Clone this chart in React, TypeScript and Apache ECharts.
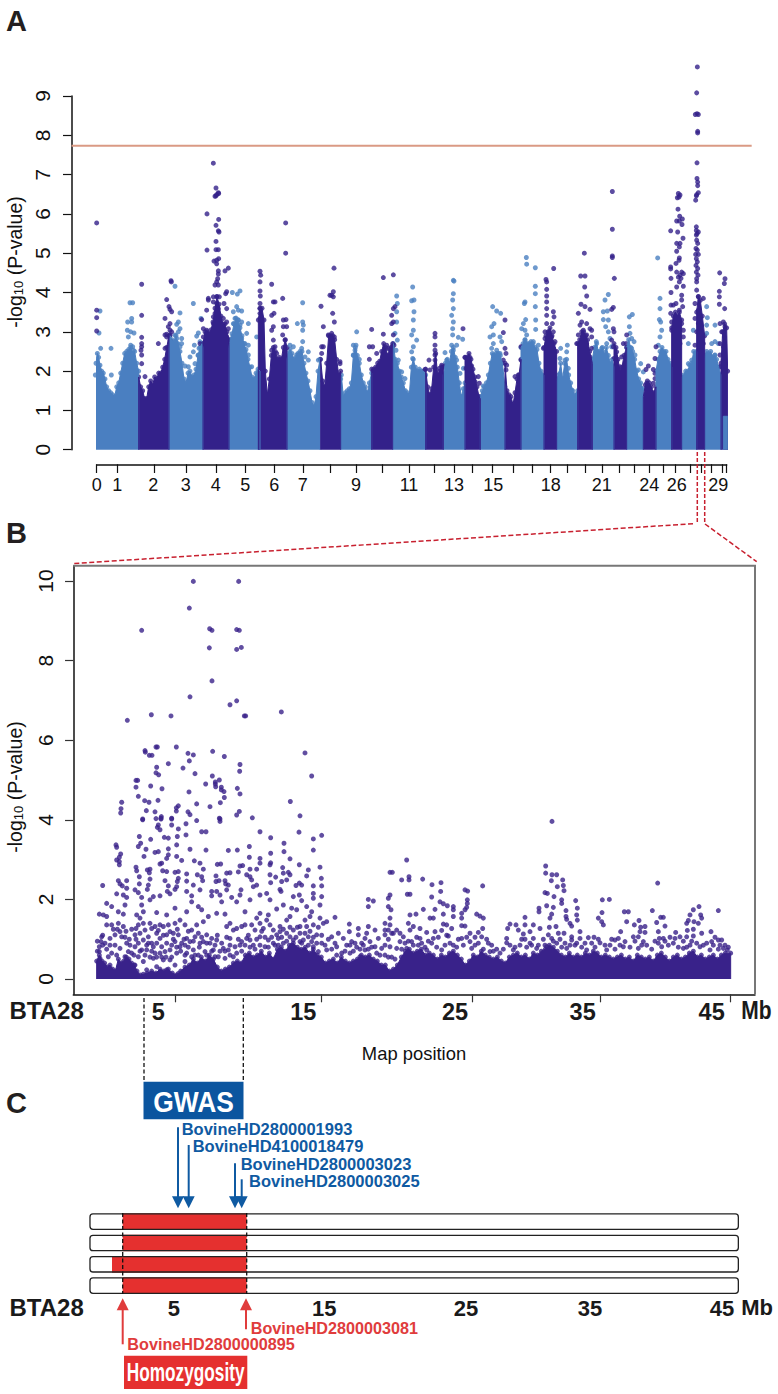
import React, { useEffect, useRef } from "react";
import * as echarts from "echarts";

// ---- Panel A: genome-wide (x = cumulative position units, y = -log10 P)
const chromTicks = [290,352,462,558,648,737,824,909,991,1068,1147,1228,1302,1362,1417,1478,1539,1598,1652,1703,1755,1808,1859,1903,1948,1990,2027,2070,2105,2135,2167,2178];
const chromLabelPos = [290,352,460,557,647,736,823,908,1068,1227,1362,1480,1652,1805,1948,2030,2155];
const chromLabels = ["0","1","2","3","4","5","6","7","9","11","13","15","18","21","24","26","29"];
const threshold = 7.735;
const thresholdSpan = [214.5, 2255];

const lightMass: number[][][] = [
  [[286,1.9],[288,2.2],[292,2.45],[296,2.35],[300,2.15],[305,2.0],[310,1.95],[315,1.8],[320,1.6],[326,1.5],[332,1.45],[338,1.4],[344,1.35],[350,1.6],[356,1.7],[362,1.95],[368,2.2],[374,2.45],[380,2.5],[386,2.55],[392,2.6],[398,2.45],[404,2.5],[410,2.2],[416,2.0]],
  [[507,2.6],[510,2.9],[516,2.8],[522,2.75],[528,2.9],[534,2.7],[540,2.5],[546,2.2],[552,1.8],[558,1.7],[564,1.95],[570,2.0],[576,1.85],[582,1.9],[588,2.05],[594,2.4],[600,2.6],[606,2.7],[609,2.6]],
  [[687,2.6],[690,2.8],[696,2.95],[702,3.2],[708,3.35],[714,3.3],[720,3.1],[726,2.9],[732,2.7],[738,2.55],[744,2.3],[750,2.1],[756,1.85],[762,1.8],[768,1.95],[774,2.05],[780,2.0]],
  [[861,2.3],[864,2.45],[870,2.55],[876,2.45],[882,2.3],[888,2.35],[894,2.45],[900,2.5],[906,2.5],[912,2.2],[918,1.95],[924,1.75],[930,1.5],[936,1.2],[942,1.1],[948,1.35],[954,2.0],[960,2.3]],
  [[1022,1.8],[1024,1.9],[1030,1.35],[1036,1.45],[1042,1.5],[1048,1.55],[1054,1.7],[1060,2.4],[1066,2.6],[1072,2.4],[1078,2.2],[1084,1.9],[1090,1.7],[1096,1.6],[1102,1.45],[1108,1.7],[1115,1.95]],
  [[1178,2.6],[1180,2.7],[1186,2.3],[1192,2.2],[1198,2.0],[1204,1.85],[1210,1.7],[1216,1.5],[1222,1.45],[1228,1.4],[1234,2.1],[1240,2.3],[1246,2.1],[1252,2.0],[1258,2.05],[1264,2.0],[1270,2.0],[1277,1.9]],
  [[1330,1.9],[1336,2.2],[1342,2.3],[1348,2.2],[1354,2.5],[1360,2.6],[1366,2.35],[1372,2.1],[1378,1.7],[1384,1.35],[1390,1.55],[1395,1.7]],
  [[1441,1.35],[1447,1.5],[1453,1.6],[1459,1.7],[1465,1.9],[1471,2.2],[1477,2.45],[1483,2.4],[1489,2.45],[1495,2.45],[1501,2.4],[1507,2.2],[1515,1.6]],
  [[1563,2.6],[1569,2.7],[1575,2.8],[1581,2.7],[1587,2.7],[1593,2.75],[1599,2.7],[1605,2.6],[1611,2.55],[1617,2.2],[1623,2.0],[1632,1.9]],
  [[1670,1.8],[1676,1.9],[1682,2.2],[1688,1.8],[1694,2.2],[1700,2.3],[1706,1.9],[1712,1.7],[1718,1.5],[1724,1.4],[1733,1.5]],
  [[1777,2.3],[1783,2.6],[1789,2.75],[1795,2.5],[1801,2.5],[1807,2.6],[1813,2.4],[1819,2.6],[1825,2.4],[1831,2.2],[1837,2.3],[1842,2.1]],
  [[1880,2.6],[1886,2.8],[1892,2.6],[1898,2.5],[1904,2.3],[1910,2.0],[1916,1.8],[1922,1.7],[1930,1.55]],
  [[1968,2.0],[1974,2.3],[1980,2.5],[1986,2.6],[1992,2.5],[1998,2.5],[2004,2.3],[2010,2.2],[2015,2.1]],
  [[2045,1.85],[2051,1.9],[2057,2.0],[2063,2.0],[2069,2.15],[2075,2.2],[2081,2.5],[2090,2.5]],
  [[2114,2.4],[2120,2.5],[2126,2.45],[2132,2.5],[2138,2.35],[2144,2.4],[2150,2.3],[2156,2.1],[2163,1.9]],
];
const darkMass: number[][][] = [
  [[416,1.85],[422,1.6],[428,1.5],[434,1.3],[440,1.3],[446,1.6],[452,1.75],[458,1.65],[464,1.85],[470,1.8],[476,1.95],[482,1.95],[488,2.1],[494,2.3],[500,2.6],[507,2.9]],
  [[609,2.7],[615,3.0],[621,3.0],[627,2.95],[633,3.05],[639,3.25],[645,3.6],[651,3.9],[657,3.7],[663,3.4],[669,3.2],[675,3.2],[681,3.0],[687,2.8]],
  [[775,3.3],[780,3.6],[786,3.6],[792,3.3],[796,2.0],[802,1.4],[808,1.8],[814,2.4],[820,2.6],[826,2.5],[832,2.3],[838,2.35],[844,2.3],[850,2.6],[856,2.8],[861,2.6]],
  [[962,2.3],[968,1.75],[974,1.6],[980,2.2],[986,2.9],[992,2.9],[998,2.9],[1004,2.8],[1010,2.3],[1016,1.9],[1022,2.0]],
  [[1115,2.05],[1121,2.05],[1127,2.1],[1133,2.2],[1139,2.25],[1145,2.5],[1151,2.7],[1157,2.6],[1163,2.4],[1169,2.55],[1175,2.6],[1178,2.7]],
  [[1277,2.05],[1283,1.6],[1289,1.4],[1295,1.55],[1301,2.1],[1307,2.45],[1313,1.9],[1319,2.0],[1325,2.15],[1330,2.1]],
  [[1395,2.35],[1401,2.35],[1407,2.45],[1413,2.3],[1419,2.05],[1425,1.85],[1431,1.6],[1437,1.35],[1441,1.3]],
  [[1515,2.2],[1521,1.5],[1527,1.4],[1533,1.35],[1539,1.15],[1545,1.45],[1551,1.8],[1557,1.9],[1563,2.3]],
  [[1632,2.6],[1638,2.9],[1644,3.0],[1650,3.1],[1656,2.9],[1662,2.7],[1670,2.5]],
  [[1733,2.7],[1739,2.8],[1745,3.0],[1751,3.0],[1757,2.9],[1763,2.8],[1769,2.5],[1777,2.2]],
  [[1842,2.7],[1848,2.6],[1854,2.3],[1860,2.0],[1866,2.1],[1872,2.4],[1880,2.6]],
  [[1930,1.35],[1936,1.65],[1942,1.75],[1948,1.7],[1954,1.6],[1960,1.45],[1968,1.6]],
  [[2015,3.1],[2020,3.4],[2026,3.5],[2032,3.4],[2038,3.5],[2045,3.3]],
  [[2090,3.5],[2095,3.9],[2101,3.8],[2107,3.4],[2114,2.9]],
  [[2163,2.2],[2168,3.0],[2174,3.2],[2180,3.1],[2183,2.0]],
];
const xChromPatch: number[][] = [[2170,0.85],[2183,0.85]];

const aDarkDots = [
  [290,5.77],[640,7.29],[648,6.66],[656,6.52],[650,6.49],[645,6.45],[655,6.54],[648,6.46],[621,6.0],[656,5.86],[648,5.71],[655,5.57],[657,5.54],[648,5.3],[621,5.08],[648,5.09],[655,5.09],[656,4.86],[650,4.82],[642,4.8],[650,4.73],[685,4.62],[675,4.55],[655,4.55],[655,4.47],[653,4.35],[780,4.54],[782,4.44],[857,5.77],[857,5.0],[1002,4.62],[1150,4.38],[513,4.3],
  [2092,9.74],[2090,9.08],[2091,8.55],[2086,8.53],[2095,8.53],[2093,8.1],[2093,8.06],[2091,7.3],[2091,6.9],[2093,6.81],[2093,6.72],[2095,6.54],[2090,6.49],[2087,6.35],[2089,6.46],
  [2089,5.67],[2089,5.58],[2095,5.54],[2091,5.5],[2089,5.46],[2090,5.33],[2093,5.25],[2088,5.12],[2092,5.08],[2087,4.97],[2095,4.97],[2089,4.86],[2092,4.78],[2088,4.69],[2093,4.61],[2089,4.52],[2094,4.44],[2090,4.35],
  [2035,6.52],[2040,6.48],[2032,6.41],[2037,6.43],[2034,6.12],[2039,5.94],[2047,5.87],[2030,5.82],[2038,5.82],[2046,5.73],[2012,5.57],[2033,5.54],[2049,5.38],[2030,5.25],[2040,5.25],[2038,5.16],[2030,5.05],[2038,4.88],[2037,4.82],[2028,4.74],[2012,4.65],[2012,4.6],[2030,4.52],[2045,4.52],[2040,4.44],[2050,4.48],[2035,4.39],[2043,4.36],[2013,4.36],
  [2159,4.5],[2175,4.35],[1837,6.57],[1837,5.61],[1837,4.93],[1837,4.89],[1843,4.36],[1753,5.0],[1742,4.42],[1755,4.42],[1661,4.61],[1638,4.33],[1180,4.45],
  [290,3.55],[290,3.36],[290,3.02],
  [425,4.21],[425,3.42],[425,2.86],[425,2.7],[425,2.62],[423,2.53],[425,2.41],[425,2.19],[435,1.86],[475,2.7],[500,2.87],[500,3.82],[507,3.64],[510,3.57],[515,3.51],[495,3.34],[510,3.21],[505,3.13],[510,3.04],[500,2.94],[495,2.92],[510,2.92],[515,3.0],[514,4.27],[510,2.79],[512,2.66],[505,2.58],[495,2.58],[512,2.49],[505,2.41],
  [650,4.27],[645,4.19],[655,4.19],[640,3.89],[650,3.89],[658,3.89],[625,3.85],[625,3.81],[640,3.76],[680,4.02],[677,3.97],[620,3.55],[650,3.72],[655,3.59],[672,3.72],[680,3.59],[645,3.47],[655,3.47],[640,3.38],[650,3.34],[660,3.3],[670,3.34],[680,3.25],[605,3.31],[610,3.08],[620,3.04],[640,3.21],[650,3.21],[660,3.13],[670,3.08],[685,3.08],[610,2.87],[620,2.96],[640,3.04],[665,2.92],[680,2.87],[600,2.7],[615,2.75],[630,2.83],
  [780,4.27],[780,4.04],[781,3.91],[780,3.72],[780,3.59],[780,3.47],[780,3.34],[815,4.21],[820,3.76],[825,3.76],[848,3.85],[815,3.42],[822,3.47],[820,3.13],[815,3.04],[850,3.3],[858,3.31],[860,3.13],[850,3.13],[848,2.92],[820,2.79],[825,2.62],[855,2.79],[815,2.53],[830,2.45],[855,2.53],[825,2.28],
  [963,3.65],[1000,4.02],[995,3.93],[990,3.93],[1000,3.89],[998,3.47],[1003,3.25],[970,3.13],[965,2.62],[970,2.62],[965,2.45],[985,2.92],[995,2.96],[1003,2.87],[1020,2.24],[1020,2.19],
  [1115,3.06],[1108,2.62],[1118,2.62],[1150,2.94],[1160,2.66],[1130,2.45],[1108,2.3],[1150,2.41],[1165,2.58],
  [1180,3.59],[1175,3.42],[1185,3.64],[1180,3.25],[1175,3.21],[1180,2.92],[1175,2.62],[1182,2.66],[1178,2.28],
  [1305,2.96],[1305,2.87],[1287,2.28],[1305,2.66],[1305,2.53],[1305,2.41],[1305,2.28],[1275,2.04],[1290,2.03],[1325,2.11],[1335,2.13],[1318,2.07],[1320,1.86],[1389,3.08],
  [1395,2.35],[1410,2.35],[1405,2.24],[1415,2.13],[1398,2.07],[1435,1.86],[1425,1.73],[1438,1.69],
  [1515,3.3],[1510,2.98],[1515,2.58],[1518,2.45],[1510,2.28],[1520,2.15],[1518,2.03],[1545,1.86],[1555,1.9],
  [1640,4.27],[1640,4.08],[1640,3.91],[1640,3.76],[1640,3.59],[1640,3.42],[1660,3.51],[1662,3.38],[1640,3.21],[1657,3.21],[1635,3.0],[1645,3.0],[1660,3.0],[1635,2.83],[1655,2.87],[1650,2.7],[1665,2.75],[1630,2.58],[1660,2.58],[1563,2.62],[1563,2.28],
  [1754,4.14],[1760,3.91],[1743,3.7],[1755,3.64],[1770,3.57],[1735,3.47],[1745,3.25],[1760,3.21],[1740,3.17],[1770,3.08],[1775,3.04],[1750,3.04],[1735,2.92],[1760,2.92],[1775,2.87],[1745,2.7],[1760,2.7],[1730,2.7],[1775,2.58],[1740,2.58],[1750,2.45],[1770,2.36],
  [1840,3.62],[1835,3.57],[1840,3.08],[1842,3.0],[1835,2.79],[1840,2.62],[1850,2.49],[1842,2.32],[1880,2.92],[1870,2.7],[1878,2.7],[1865,2.36],[1880,2.36],[1860,2.11],
  [1945,2.13],[1938,2.04],[1960,2.04],[1965,1.94],[1965,1.81],[1960,1.69],[1940,1.69],[1935,1.35],[1968,2.62],[1965,2.32],
  [2013,4.0],[2013,3.68],[2020,3.68],[2012,3.47],[2015,3.25],[2028,3.72],[2038,4.27],[2050,4.16],[2030,4.14],[2045,3.93],[2045,3.81],[2048,3.64],[2038,3.55],[2030,3.21],[2045,3.21],[2050,3.04],[2015,3.04],[2025,2.92],[2050,2.87],[2040,2.7],
  [2090,4.27],[2090,4.06],[2095,3.89],[2085,3.72],[2095,3.55],[2085,3.34],[2095,3.21],[2090,3.0],[2100,2.87],[2110,3.85],[2110,2.7],[2085,2.66],[2100,2.53],
  [2173,4.23],[2158,4.03],[2158,3.89],[2158,3.7],[2174,3.59],[2170,3.25],[2160,3.21],[2175,3.13],[2165,3.0],[2173,2.87],[2160,2.7],[2170,2.62],[2160,2.41],[2170,2.28],[2160,2.11],
];
const aLightDots = [
  [1579,4.89],[1580,4.72],[1606,4.63],[1360,4.31],[1973,4.88],
  [300,3.53],[297,2.97],[302,2.58],[333,2.58],[334,1.9],[390,3.74],[398,3.74],[395,3.34],[383,3.25],[395,3.25],[382,3.04],[392,3.0],[402,2.97],[385,2.87],[398,2.62],[392,2.66],[388,2.49],[380,2.41],[400,2.53],
  [525,4.16],[540,3.48],[535,3.25],[530,3.19],[540,3.08],[535,3.0],[525,2.92],[530,2.83],[545,2.83],[530,2.7],[545,2.7],[525,2.53],[540,2.62],[530,2.41],[570,2.36],[580,3.72],[583,2.66],[580,2.49],[603,3.34],[595,2.97],[590,2.89],[600,2.75],[597,2.58],[595,2.41],[565,2.11],[555,2.13],[585,2.19],
  [697,4.0],[720,4.04],[712,3.96],[710,3.64],[700,3.51],[715,3.55],[725,3.53],[705,3.34],[715,3.3],[725,3.25],[745,3.21],[700,3.21],[710,3.13],[720,3.17],[740,2.96],[770,2.87],[735,2.7],[745,2.66],[725,2.83],[735,2.49],[745,2.41],[755,2.11],
  [908,3.74],[908,3.25],[892,3.21],[910,3.17],[908,3.04],[908,2.75],[905,2.58],[895,2.41],[925,2.49],[870,2.66],[880,2.62],[890,2.41],[915,2.36],[925,2.28],
  [955,2.28],[1070,3.0],[1060,2.66],[1068,2.66],[1065,2.53],[1060,2.41],[1078,2.3],[1070,2.11],
  [1190,3.91],[1238,4.14],[1242,3.81],[1235,3.79],[1242,3.51],[1240,3.3],[1240,3.04],[1235,2.92],[1250,2.79],[1240,2.62],[1235,2.49],[1238,2.32],[1205,1.98],[1192,3.72],[1190,3.51],[1190,3.25],[1185,2.96],[1192,2.79],[1188,2.53],[1195,2.28],[1215,1.81],
  [1362,4.29],[1360,3.97],[1358,3.81],[1360,3.59],[1355,3.42],[1360,3.25],[1358,3.08],[1358,2.92],[1375,2.86],[1388,2.81],[1355,2.66],[1370,2.66],[1360,2.53],[1335,2.47],[1340,2.28],[1370,2.28],[1390,2.07],[1380,1.94],
  [1478,3.64],[1490,3.53],[1502,3.47],[1482,3.21],[1475,3.13],[1470,2.87],[1480,2.92],[1500,2.87],[1505,2.75],[1480,2.7],[1475,2.58],[1490,2.53],[1500,2.45],[1480,2.41],[1450,1.62],[1465,1.64],
  [1575,3.76],[1573,3.72],[1606,4.16],[1606,3.97],[1606,3.64],[1577,3.31],[1607,3.3],[1570,3.21],[1565,3.08],[1575,3.04],[1607,3.06],[1580,2.92],[1575,2.79],[1600,2.75],[1615,2.66],[1585,2.62],
  [1682,2.58],[1702,2.66],[1700,2.49],[1695,2.28],[1680,1.94],[1705,2.07],[1715,1.52],[1680,2.32],
  [1825,3.95],[1815,3.81],[1810,3.51],[1822,3.53],[1810,3.31],[1825,3.3],[1817,3.13],[1825,3.0],[1830,2.83],[1790,2.7],[1820,2.7],[1805,2.58],[1835,2.62],[1810,2.49],
  [1897,3.44],[1888,3.38],[1888,3.13],[1890,2.96],[1895,2.83],[1902,2.75],[1895,2.58],[1905,2.41],[1922,2.19],[1915,2.03],[1930,1.98],
  [1980,3.85],[1980,3.59],[1978,3.31],[1982,3.25],[1985,3.04],[1980,2.87],[1975,2.66],[1990,2.41],[1980,2.28],
  [2080,3.04],[2065,2.7],[2075,2.28],[2065,2.19],
  [2120,3.64],[2122,3.36],[2120,3.17],[2120,2.96],[2145,3.17],[2145,2.75],[2135,2.7],[2155,2.7],[2130,2.41],[2145,2.41],
];

// ---- Panel B: BTA28 (x = marker position units, y = -log10 P)
const bTicks = [345,784,1237,1621,2011];
const bLabelPos = [295,730,1185,1568,1955];
const bLabels = ["5","15","25","35","45"];
const bYTicks = [0,2,4,6,8,10];
const bMass = [[110,.45],[118,.6],[126,.45],[134,.4],[142,.3],[150,.35],[158,.25],[166,.2],[175,.5],[183,.4],[191,.45],[199,.55],[207,.5],[215,.4],[223,.35],[231,.2],[240,.1],[250,.12],[262,.15],[275,.2],[288,.15],[300,.25],[312,.2],[325,.25],[337,.15],[350,.1],[362,.2],[375,.3],[388,.35],[400,.5],[412,.4],[424,.55],[436,.45],[448,.6],[460,.5],[472,.3],[484,.2],[496,.25],[508,.3],[520,.4],[532,.45],[544,.4],[556,.6],[568,.65],[580,.55],[592,.6],[604,.7],[616,.55],[628,.65],[640,.5],[652,.75],[664,.8],[676,.7],[688,.85],[700,.9],[712,.8],[724,.75],[736,.8],[748,.65],[760,.75],[772,.6],[784,.55],[796,.4],[808,.45],[820,.5],[832,.4],[844,.55],[856,.45],[868,.4],[880,.45],[892,.5],[904,.6],[916,.55],[928,.6],[940,.5],[952,.45],[964,.35],[976,.35],[988,.2],[1000,.25],[1012,.35],[1024,.55],[1036,.7],[1048,.75],[1060,.65],[1072,.7],[1084,.75],[1096,.6],[1108,.65],[1120,.6],[1132,.5],[1144,.6],[1156,.55],[1168,.65],[1180,.7],[1192,.6],[1204,.5],[1216,.35],[1228,.45],[1240,.6],[1252,.55],[1264,.7],[1276,.6],[1288,.55],[1300,.5],[1312,.55],[1324,.45],[1336,.4],[1348,.55],[1360,.6],[1372,.65],[1384,.55],[1396,.6],[1408,.5],[1420,.65],[1432,.6],[1444,.7],[1456,.75],[1468,.85],[1480,.8],[1492,.7],[1504,.6],[1516,.55],[1528,.65],[1540,.55],[1552,.6],[1564,.55],[1576,.65],[1588,.6],[1600,.7],[1612,.65],[1624,.55],[1636,.6],[1648,.55],[1660,.5],[1672,.55],[1684,.6],[1696,.5],[1708,.55],[1720,.45],[1732,.6],[1744,.55],[1756,.5],[1768,.55],[1780,.45],[1792,.6],[1804,.65],[1816,.55],[1828,.45],[1840,.55],[1852,.6],[1864,.5],[1876,.55],[1888,.65],[1900,.7],[1912,.55],[1924,.6],[1936,.5],[1948,.55],[1960,.6],[1972,.5],[1984,.6],[1996,.65],[2012,.65]];
const bTopDots = [
  [400,9.99],[536,9.99],[388,9.32],[245,8.76],[449,8.8],[456,8.76],[530,8.78],[538,8.76],[448,8.32],[530,8.28],[544,8.33],[456,7.49],[390,7.09],[510,6.89],[530,6.99],[274,6.64],[333,6.61],[202,6.5],[553,6.61],[557,6.61],[664,6.71],
  [288,5.83],[292,5.83],[349,5.83],[255,5.74],[256,5.7],[268,5.62],[276,5.62],[384,5.67],[400,5.63],[458,5.72],[493,5.59],[735,5.68],[388,5.48],[325,5.41],[290,5.32],[369,5.3],[540,5.39],[539,5.22],[288,5.18],[296,5.13],[405,5.16],[457,5.1],[755,5.1],[228,4.99],[233,4.99],[478,5.0],[466,4.95],[466,4.9],[437,4.9],[467,4.83],[272,4.85],[228,4.82],[484,4.82],[306,4.78],[532,4.79],[484,4.75],[492,4.71],[387,4.7],[540,4.65],[235,4.59],[493,4.56],[294,4.49],[254,4.48],[267,4.44],[185,4.44],[481,4.43],[691,4.46],[410,4.4],[355,4.35],[349,4.3],[450,4.33],[183,4.28],[349,4.22],[259,4.23],[285,4.2],[384,4.2],[390,4.13],[182,4.17],[538,4.21],[530,4.12],[720,4.1],[304,4.08],[248,4.02],[288,4.03],[303,4.04],[335,4.04],[478,4.04],[577,4.05],[410,3.98],
];
const bMidDots = [
  [303,4.02],[248,4.0],[335,4.02],[480,4.02],[480,3.96],
  [295,3.87],[335,3.87],[378,3.9],[292,3.81],[300,3.75],[355,3.77],[425,3.7],[438,3.7],[600,3.7],[717,3.69],[785,3.61],[238,3.58],[272,3.51],[313,3.56],[325,3.54],[352,3.58],[378,3.62],[632,3.55],[760,3.52],[672,3.41],[168,3.37],[170,3.31],[242,3.41],[235,3.33],[350,3.37],[568,3.33],[258,3.26],[325,3.27],[390,3.26],[438,3.24],[505,3.23],[532,3.24],[672,3.2],[760,3.24],[182,3.14],[178,3.06],[285,3.18],[295,3.2],[252,3.08],[325,3.12],[320,3.03],[350,3.08],[632,3.16],[568,3.06],[600,3.03],[690,3.02],[170,2.99],[178,2.95],[178,2.87],[305,2.91],[300,2.89],[365,2.98],[403,2.97],[420,2.91],[472,2.88],[482,2.89],[540,2.84],[548,2.85],[632,2.92],[600,2.91],[718,2.87],[780,2.81],[228,2.81],[230,2.72],[262,2.74],[270,2.76],[268,2.67],[308,2.72],[320,2.7],[355,2.7],[345,2.68],[430,2.76],[570,2.76],[590,2.76],[668,2.8],[630,2.87],[745,2.74],[670,2.66],[685,2.68],[690,2.62],[380,2.64],[412,2.62],[425,2.57],[468,2.59],[500,2.66],[510,2.67],[535,2.69],[560,2.62],[570,2.57],[630,2.62],[647,2.56],[740,2.59],[784,2.53],[238,2.57],[270,2.51],[175,2.47],[200,2.47],[315,2.47],[355,2.53],[352,2.45],[380,2.46],[428,2.47],[468,2.45],[477,2.47],[495,2.47],[575,2.49],[632,2.42],[665,2.45],[680,2.49],[997,2.68],[990,2.68],[718,2.41],[725,2.36],[708,2.35],[128,2.35],[180,2.39],[187,2.34],[200,2.28],[238,2.39],[265,2.36],[325,2.34],[350,2.32],[400,2.36],[497,2.39],[505,2.36],[580,2.32],[590,2.36],[660,2.25],[760,2.34],[785,2.34],[225,2.24],[235,2.17],[262,2.25],[322,2.2],[345,2.25],[380,2.2],[420,2.24],[455,2.2],[470,2.2],[500,2.24],[543,2.24],[600,2.11],[620,2.15],[663,2.2],
  [170,2.14],[190,2.11],[200,2.05],[245,2.05],[280,2.07],[300,2.09],[330,2.14],[395,2.09],[455,2.09],[480,2.11],[515,2.05],[540,2.11],[718,2.11],[760,2.15],[785,2.07],[990,2.11],[985,2.03],[925,2.0],[940,1.96],[140,1.9],[155,1.82],[195,1.86],[245,1.86],[270,1.99],[395,1.94],[415,1.82],[485,1.94],[530,1.94],[570,1.99],[630,1.99],[670,1.86],[700,2.07],[725,1.97],[760,2.03],[780,1.86],[925,1.82],[985,1.82],[993,1.74],
  [118,1.63],[130,1.61],[140,1.57],[155,1.36],[140,1.36],[175,1.69],[190,1.63],[230,1.61],[250,1.69],[290,1.67],[320,1.61],[345,1.78],[380,1.69],[425,1.74],[470,1.65],[495,1.63],[555,1.69],[600,1.65],[625,1.61],[650,1.76],[695,1.78],[710,1.74],[740,1.82],[755,1.69],[690,1.57],[780,1.53],[800,1.44],[825,1.55],[990,1.53],[975,1.4],[1010,1.23],[868,1.38],[925,1.32],[895,1.27],
];
const bLowDots = [
  [125,1.06],[123,.94],[118,.81],[118,.69],[135,.9],[150,1.02],[165,1.11],[180,1.19],[190,1.32],[175,1.4],[185,1.06],[200,.9],[165,.85],[180,.77],[145,.56],[120,.52],[205,.69],[195,.56],[215,.65],[235,.56],[225,1.11],[235,1.36],[240,1.53],[250,1.4],[270,1.4],[265,1.06],[250,.98],[275,.9],[290,1.15],[300,1.36],[285,1.32],[260,.73],[285,.65],[305,.81],[320,.9],[330,1.19],[345,1.4],[360,1.48],[375,1.36],[355,1.11],[365,.9],[380,1.02],[395,1.23],[410,1.36],[430,1.44],[445,1.57],[415,1.15],[430,.94],[450,.9],[470,.98],[490,.77],[510,1.02],[520,1.23],[545,1.32],[555,1.36],[500,1.32],[465,.56],[400,.73],[380,.65],[350,.65],[330,.48],[310,.48],[260,.23],[290,.31],[320,.23],[355,.14],[380,.23],[400,.31],[430,.39],[450,.44],[475,.56],[505,.73],[540,.85],[570,.98],[585,1.23],[600,1.4],[620,1.48],[640,1.23],[660,1.32],[680,1.15],[700,1.23],[720,1.15],[740,1.32],[760,1.36],[770,1.11],[790,1.4],[600,1.06],[625,.98],[655,1.02],[690,1.06],[730,.98],[755,.94],[785,.9],[800,.73],[835,1.15],[868,1.19],[895,1.11],[920,1.15],[945,1.23],[830,.81],[860,.85],[885,.9],[915,1.02],[930,.94],[955,1.02],[975,1.11],[1000,1.15],[990,1.36],[985,1.23],[975,1.23],[990,.81],[965,.77],
  [228,1.27],[240,1.15],[255,1.23],[275,1.27],[295,1.22],[310,1.32],[325,1.36],[320,1.11],[340,1.15],[345,.94],[360,.81],[375,.85],[390,.94],[405,1.06],[420,.9],[440,1.11],[455,1.02],[460,.73],[435,.69],[415,.6],[395,.56],[375,.44],[345,.35],[300,.65],[280,.81],[265,.9],[245,.73],[235,.9],[225,.81],[300,1.02],[315,.69],[330,.73],[280,.52],[250,.44],[225,.35],[510,1.4],[530,1.27],[575,1.36],[590,1.53],[610,1.27],[630,1.36],[650,1.11],[670,.9],[700,.98],[720,.94],[745,1.06],[760,.81],[775,.69],[580,.85],[615,.81],[640,.9],[560,1.02],[545,.94],[525,.81],[520,.56],[495,.52],[735,1.48],[750,1.57],[720,1.32],[680,1.48],[660,1.19],[815,1.06],[850,1.02],[875,.94],[905,.9],[945,.81],[915,.73],[870,.65],[900,.56],
];
const bFillDots = [
  [112,.7],[128,.85],[112,.95],[140,.75],[155,.65],[170,.6],[150,.85],[128,1.1],[160,1.25],[172,1.25],[195,1.05],[210,.85],[222,.6],[208,1.0],[215,1.25],[198,1.2],[228,1.0],[240,.7],[255,.6],[270,.55],[260,.85],[275,.7],[290,.55],[290,.9],[305,.55],[310,1.1],[318,.55],[335,.55],[335,.85],[350,.8],[340,1.0],[352,1.25],[362,.7],[375,.6],[372,1.0],[385,.8],[385,1.2],[400,.95],[405,.6],[418,.8],[425,1.05],[440,.9],[440,.6],[455,.7],[465,.85],[472,1.1],[480,.7],[485,.9],[495,.7],[500,1.05],[510,.6],[510,.85],[530,.65],[535,1.0],[545,.7],[555,.85],[565,1.1],[570,.8],[585,.75],[590,1.0],[600,.85],[605,1.2],[615,1.05],[625,.8],[635,1.05],[645,.85],[655,.85],[665,1.05],[670,1.25],[680,.95],[690,1.3],[695,.85],[708,1.05],[712,1.3],[725,.9],[735,1.15],[745,.85],[750,1.2],[760,1.05],[770,.9],[775,1.3],[785,1.1],[795,.85],[805,1.0],[815,.75],[825,.9],[830,.6],[845,.65],[855,.7],[870,.85],[880,.7],[890,.8],[900,.75],[910,.85],[925,.75],[935,.8],[950,.65],[960,.6],[975,.6],[985,.55],[975,.85],[985,1.0],[995,.55],[1005,.5],
  [1025,.75],[1035,.9],[1045,.95],[1060,.85],[1070,1.05],[1075,.85],[1095,.8],[1105,.95],[1130,.8],[1135,1.05],[1155,.85],[1160,1.1],[1180,.85],[1195,1.0],[1210,.85],[1220,1.05],[1245,.85],[1245,1.05],[1270,.75],[1280,1.0],[1300,.7],[1310,.75],[1330,.75],[1350,.85],[1365,.8],[1380,.85],[1385,1.0],[1400,.8],[1415,.85],[1435,.85],[1450,1.0],[1455,.85],[1480,.95],[1500,1.0],[1505,.8],[1530,.85],[1545,.85],[1565,.8],[1575,.9],[1605,.8],[1615,1.0],[1635,.85],[1655,1.0],[1665,.75],[1680,.85],[1710,.8],[1725,.95],[1745,.85],[1760,.85],[1775,.75],[1785,.95],[1815,.95],[1825,.85],[1830,1.05],[1855,.8],[1870,.95],[1880,.8],[1895,.95],[1910,.9],[1930,.85],[1940,.9],[1960,.85],[1965,1.05],[1975,.75],[1995,.85],[2005,.8],
];
const bRightDots = [
  [1476,3.96],[1040,2.99],[1457,2.84],[1457,2.66],[1025,2.49],[1047,2.57],[1047,2.49],[1088,2.51],[1476,2.62],[1490,2.62],[1474,2.47],[1508,2.49],[1116,2.37],[1143,2.42],[1510,2.35],[1492,2.32],[1512,2.22],[1793,2.41],[1268,2.34],[1215,2.24],[1223,2.21],[1142,2.2],[1042,2.13],[1050,2.13],[1455,2.17],[1462,2.15],[1115,2.06],[1482,2.07],[1222,1.99],[1505,1.99],[1505,1.9],[1547,1.97],[1627,1.99],[1648,2.0],[1140,1.94],[1150,1.89],[1162,1.84],[1222,1.9],[1180,1.82],[1220,1.8],[1460,1.84],[1480,1.8],[1552,1.78],[1437,1.78],[1090,1.75],[1125,1.75],[1180,1.74],[1215,1.74],[1205,1.65],[1437,1.69],[1518,1.72],[1550,1.61],[1626,1.67],[1693,1.69],[1705,1.69],[1777,1.72],[1975,1.72],[1900,1.74],[1917,1.82],[1050,1.61],[1068,1.63],[1110,1.53],[1120,1.53],[1150,1.63],[1180,1.57],[1205,1.53],[1250,1.63],[1260,1.58],[1270,1.53],[1395,1.55],[1475,1.63],[1470,1.53],[1518,1.57],[1520,1.5],[1552,1.48],[1615,1.53],[1625,1.44],[1700,1.44],[1737,1.47],[1790,1.42],[1802,1.55],[1810,1.55],[1890,1.61],[1922,1.61],[1885,1.47],[1902,1.44],[1925,1.53],[1045,1.4],[1060,1.32],[1150,1.38],[1160,1.36],[1205,1.34],[1215,1.33],[1268,1.27],[1350,1.38],[1368,1.36],[1395,1.36],[1420,1.36],[1343,1.27],[1440,1.27],[1468,1.3],[1488,1.32],[1530,1.4],[1535,1.33],[1560,1.19],[1630,1.36],[1723,1.36],[1742,1.3],[1755,1.32],[1815,1.33],[1880,1.4],[1900,1.25],[1915,1.4],
  [995,1.15],[1050,1.23],[1080,1.27],[1100,1.17],[1125,1.19],[1145,1.22],[1175,1.27],[1230,1.15],[1255,1.17],[1375,1.23],[1390,1.13],[1410,1.19],[1495,1.15],[1512,1.15],[1535,1.06],[1682,1.19],[1740,1.19],[1755,1.17],[1795,1.19],[1847,1.17],[1882,1.22],[1953,1.19],
  [1020,1.15],[1030,1.06],[1080,1.02],[1120,1.02],[1165,1.08],[1205,1.02],[1265,1.06],[1340,1.02],[1395,1.0],[1420,1.02],[1465,1.11],[1475,1.02],[1535,.98],[1560,1.02],[1585,1.04],[1602,1.05],[1665,.98],[1675,1.02],[1720,1.06],[1735,1.06],[1798,1.02],[1810,1.02],[1845,1.02],[1860,1.06],[1880,1.06],[1900,1.08],[1925,1.15],[1975,.98],[1985,.98],
  [1020,.94],[1055,.94],[1085,.9],[1115,.9],[1170,.9],[1230,.94],[1255,.9],[1285,.9],[1295,.85],[1340,.91],[1410,.9],[1490,.9],[1515,.9],[1550,.9],[1595,.9],[1620,.91],[1650,.85],[1695,.94],[1750,.94],[1795,.9],[1840,.9],[1890,.85],[1955,.94],[1980,.85],[2002,.73],[1990,.77],[1010,.77],[1040,.77],[1100,.73],[1145,.73],[1190,.8],[1235,.77],[1290,.69],[1320,.65],[1360,.73],[1430,.77],[1460,.81],[1520,.77],[1580,.73],[1640,.73],[1690,.81],[1735,.77],[1805,.81],[1870,.77],[1920,.81],[1950,.73],
];

// ---- Panel C: four haplotypes
const haplotypes = ["Haplotype 1","Haplotype 2","Haplotype 3","Haplotype 4"];
const hapStart = [100,100,68,100];
const hapLength = [372,372,404,372];
const hapTotal = 1949;
const cLabelPos = [254,705,1130,1502,1898];
const cLabels = ["5","15","25","35","45"];
const gwasMarkers = ["BovineHD2800001993","BovineHD4100018479","BovineHD2800003023","BovineHD2800003025"];
const homozygosityMarkers = ["BovineHD2800000895","BovineHD2800003081"];

const FONT = "Liberation Sans";
const DARK = "#33218a";
const LIGHT = "#4a7fc1";
const BDOT = "#39228a";
const BLUE = "#0f5aa2";
const RED = "#e5302f";
const ARROW_RED = "#e03c3c";
const DASH_RED = "#c8202f";

function withGaps(segs: number[][][]) {
  const out: any[] = [];
  segs.forEach((s) => {
    out.push([s[0][0], 0], ...s, [s[s.length - 1][0], 0], [s[s.length - 1][0], null]);
  });
  return out;
}

const line = (x1: number, y1: number, x2: number, y2: number, stroke: string, lineWidth: number, lineDash?: number[]) => ({
  type: "line", z: 10, shape: { x1, y1, x2, y2 }, style: { stroke, lineWidth, lineDash: lineDash || null },
});
const txt = (x: number, y: number, text: string, fontSize: number, fill: string, opts: any = {}) => ({
  type: "text", z: 12, x, y, scaleX: opts.scaleX ?? 1, style: {
    text, fontSize, fill, fontFamily: FONT, fontWeight: opts.weight ?? "bold",
    align: opts.align ?? "left", verticalAlign: "middle",
  },
});
const arrowDown = (x: number, top: number, tip: number, color: string) => [
  line(x, top, x, tip - 10, color, 2),
  { type: "polygon", z: 11, shape: { points: [[x - 6, tip - 12], [x + 6, tip - 12], [x, tip]] }, style: { fill: color } },
];
const arrowUp = (x: number, tip: number, bottom: number, color: string) => [
  line(x, tip + 10, x, bottom, color, 2),
  { type: "polygon", z: 11, shape: { points: [[x - 6, tip + 12], [x + 6, tip + 12], [x, tip]] }, style: { fill: color } },
];
const yTitle = (y: number) => ({
  type: "text", z: 12, x: 15, y, rotation: Math.PI / 2, style: {
    text: "{a|-log}{b|10}{a| (P-value)}", align: "center", verticalAlign: "middle",
    rich: {
      a: { fontSize: 19.5, fontFamily: FONT, fill: "#111" },
      b: { fontSize: 13, fontFamily: FONT, fill: "#111", verticalAlign: "bottom" },
    },
  },
});

export default function App() {
  const ref = useRef<HTMLDivElement>(null);
  useEffect(() => {
    const chart = echarts.init(ref.current!, undefined, { renderer: "svg" });
    const scatter = (name: string, data: number[][], color: string, xAxisIndex: number, size = 5) => ({
      type: "scatter", name, data, xAxisIndex, yAxisIndex: xAxisIndex, symbolSize: size, clip: false,
      itemStyle: { color }, silent: true,
    });
    const area = (name: string, data: any[], color: string, xAxisIndex: number, w = 1) => ({
      type: "line", name, data, xAxisIndex, yAxisIndex: xAxisIndex, showSymbol: false, symbol: "none", clip: false,
      connectNulls: false, lineStyle: { color, width: w }, areaStyle: { color, opacity: 1 }, itemStyle: { color }, silent: true,
    });
    const axisLine = { show: true, onZero: false, lineStyle: { color: "#111", width: 1.5 } };
    const bigLabel = { color: "#1a1a1a", fontFamily: FONT, fontWeight: "bold", fontSize: 22 };
    const lookup = (pos: number[], labels: string[]) => (v: number) => labels[pos.indexOf(v)] ?? "";

    const graphicEls: any[] = [
      txt(6, 21, "A", 29, "#231f20"),
      txt(6, 533, "B", 29, "#231f20"),
      txt(6, 1103, "C", 29, "#231f20"),
      yTitle(262),
      yTitle(787),
      line(697.3, 452, 697.3, 522, DASH_RED, 1.5, [4, 2]),
      line(704.7, 452, 704.7, 524, DASH_RED, 1.5, [4, 2]),
      line(693, 523.7, 74, 563.5, DASH_RED, 1.5, [5, 2.5]),
      line(705, 524, 756.7, 561.7, DASH_RED, 1.5, [5, 2.5]),
      line(73.3, 565.7, 756, 565.7, "#777", 2),
      line(755, 565.7, 755, 994.3, "#777", 2),
      txt(9.5, 1010, "BTA28", 24, "#1a1a1a"),
      txt(756.5, 1010, "Mb", 25, "#1a1a1a", { align: "center", scaleX: 0.84 }),
      txt(414, 1053, "Map position", 18.4, "#111", { align: "center", weight: "normal" }),
      line(144, 998, 144, 1081, "#111", 1.3, [4, 2.5]),
      line(243.3, 998, 243.3, 1081, "#111", 1.3, [4, 2.5]),
      { type: "rect", z: 10, shape: { x: 143.5, y: 1081.7, width: 100, height: 37.6 }, style: { fill: "#0b559f" } },
      txt(193.5, 1101, "GWAS", 30, "#fff", { align: "center", scaleX: 0.88 }),
      txt(181.7, 1129.3, gwasMarkers[0], 16.5, BLUE),
      txt(192.7, 1146, gwasMarkers[1], 16.5, BLUE),
      txt(240.7, 1164.3, gwasMarkers[2], 16.5, BLUE),
      txt(249, 1181, gwasMarkers[3], 16.5, BLUE),
      ...arrowDown(178, 1127.3, 1208.3, BLUE),
      ...arrowDown(188.7, 1145, 1208.3, BLUE),
      ...arrowDown(235, 1163.3, 1208.3, BLUE),
      ...arrowDown(241.7, 1179.3, 1208.3, BLUE),
      line(122.7, 1213, 122.7, 1294, "#111", 1.3, [4, 2.5]),
      line(246.7, 1213, 246.7, 1294, "#111", 1.3, [4, 2.5]),
      txt(9.5, 1307, "BTA28", 24, "#1a1a1a"),
      txt(757, 1307, "Mb", 22, "#1a1a1a", { align: "center" }),
      ...arrowUp(122.7, 1298.3, 1344.3, ARROW_RED),
      ...arrowUp(246, 1298.3, 1329.3, ARROW_RED),
      txt(250.7, 1328.3, homozygosityMarkers[1], 16.2, ARROW_RED),
      txt(127.3, 1344, homozygosityMarkers[0], 16.2, ARROW_RED),
      { type: "rect", z: 10, shape: { x: 124, y: 1355.7, width: 123.3, height: 33.3 }, style: { fill: RED } },
      txt(185.6, 1372.5, "Homozygosity", 25, "#fff", { align: "center", scaleX: 0.69 }),
    ];

    chart.setOption({
      animation: false,
      backgroundColor: "#fff",
      grid: [
        { left: 96.67, width: 630, top: 96, height: 353.7 },
        { left: 73.33, width: 681.67, top: 565.7, height: 428.6 },
        { left: 89.33, width: 649.67, top: 1211, height: 85.3 },
        { left: 71.5, width: 680.17, top: 96, height: 353.7 },
      ],
      xAxis: [
        {
          gridIndex: 0, type: "value", min: 290, max: 2180, offset: 14.6, splitLine: { show: false },
          axisLine, axisTick: { show: true, length: 8.7, customValues: chromTicks, lineStyle: { color: "#111", width: 1.2 } },
          axisLabel: { customValues: chromLabelPos, formatter: lookup(chromLabelPos, chromLabels), color: "#111", fontFamily: FONT, fontSize: 18, margin: 12 },
        },
        {
          gridIndex: 1, type: "value", min: 40, max: 2085, splitLine: { show: false },
          axisLine, axisTick: { show: true, length: 8, customValues: bTicks, lineStyle: { color: "#333", width: 1.2 } },
          axisLabel: { customValues: bLabelPos, formatter: lookup(bLabelPos, bLabels), margin: 6, ...bigLabel, fontSize: 23.5 },
        },
        {
          gridIndex: 2, type: "value", min: 0, max: hapTotal, splitLine: { show: false },
          axisLine: { show: false }, axisTick: { show: false },
          axisLabel: { customValues: cLabelPos, formatter: lookup(cLabelPos, cLabels), margin: 1, ...bigLabel },
        },
        { gridIndex: 3, type: "value", min: thresholdSpan[0], max: thresholdSpan[1], show: false },
      ],
      yAxis: [
        {
          gridIndex: 0, type: "value", min: 0, max: 9, interval: 1, offset: 25.2, splitLine: { show: false },
          axisLine, axisTick: { show: true, length: 8.5, lineStyle: { color: "#111", width: 1.2 } },
          axisLabel: { rotate: 90, color: "#111", fontFamily: FONT, fontSize: 21, margin: 18.5 },
        },
        {
          gridIndex: 1, type: "value", min: -0.384, max: 10.384, splitLine: { show: false },
          axisLine, axisTick: { show: true, length: 8.3, customValues: bYTicks, lineStyle: { color: "#333", width: 1.2 } },
          axisLabel: { customValues: bYTicks, rotate: 90, color: "#111", fontFamily: FONT, fontSize: 21, margin: 17 },
        },
        { gridIndex: 2, type: "category", inverse: true, data: haplotypes, show: false },
        { gridIndex: 3, type: "value", min: 0, max: 9, show: false },
      ],
      series: [
        area("Chromosomes (odd)", withGaps(lightMass), LIGHT, 0),
        scatter("Odd SNP rim", lightMass.flat(), LIGHT, 0),
        area("Chromosomes (even)", withGaps(darkMass), DARK, 0),
        scatter("Even SNP rim", darkMass.flat(), DARK, 0),
        area("X patch", withGaps([xChromPatch]), LIGHT, 0),
        scatter("Odd SNPs", aLightDots, LIGHT, 0),
        scatter("Even SNPs", aDarkDots, DARK, 0),
        {
          type: "line", name: "Genome-wide threshold", xAxisIndex: 3, yAxisIndex: 3, clip: false, showSymbol: false, symbol: "none",
          data: [[thresholdSpan[0], threshold], [thresholdSpan[1], threshold]], lineStyle: { color: "#da9a84", width: 2 }, silent: true,
        },
        area("BTA28 dense", withGaps([bMass]), BDOT, 1, 1),
        scatter("BTA28 rim", bMass, BDOT, 1),
        scatter("BTA28 top", bTopDots, BDOT, 1),
        scatter("BTA28 mid", bMidDots, BDOT, 1),
        scatter("BTA28 low", bLowDots, BDOT, 1),
        scatter("BTA28 fill", bFillDots, BDOT, 1),
        scatter("BTA28 right", bRightDots, BDOT, 1),
        {
          type: "bar", name: "offset", xAxisIndex: 2, yAxisIndex: 2, stack: "hap", data: hapStart, barWidth: 16.7, barGap: "-100%",
          itemStyle: { color: "transparent" }, silent: true,
        },
        {
          type: "bar", name: "Homozygous region", xAxisIndex: 2, yAxisIndex: 2, stack: "hap", data: hapLength, barWidth: 16.7,
          itemStyle: { color: RED }, silent: true,
        },
        {
          type: "bar", name: "Chromosome", xAxisIndex: 2, yAxisIndex: 2, data: haplotypes.map(() => hapTotal), barWidth: 16.7, clip: false,
          itemStyle: { color: "transparent", borderColor: "#222", borderWidth: 1.3, borderRadius: 3 }, silent: true,
        },
      ],
      graphic: { elements: graphicEls },
    });
    return () => chart.dispose();
  }, []);
  return <div ref={ref} style={{ position: "absolute", left: 0, top: 0, width: 778, height: 1394 }} />;
}
